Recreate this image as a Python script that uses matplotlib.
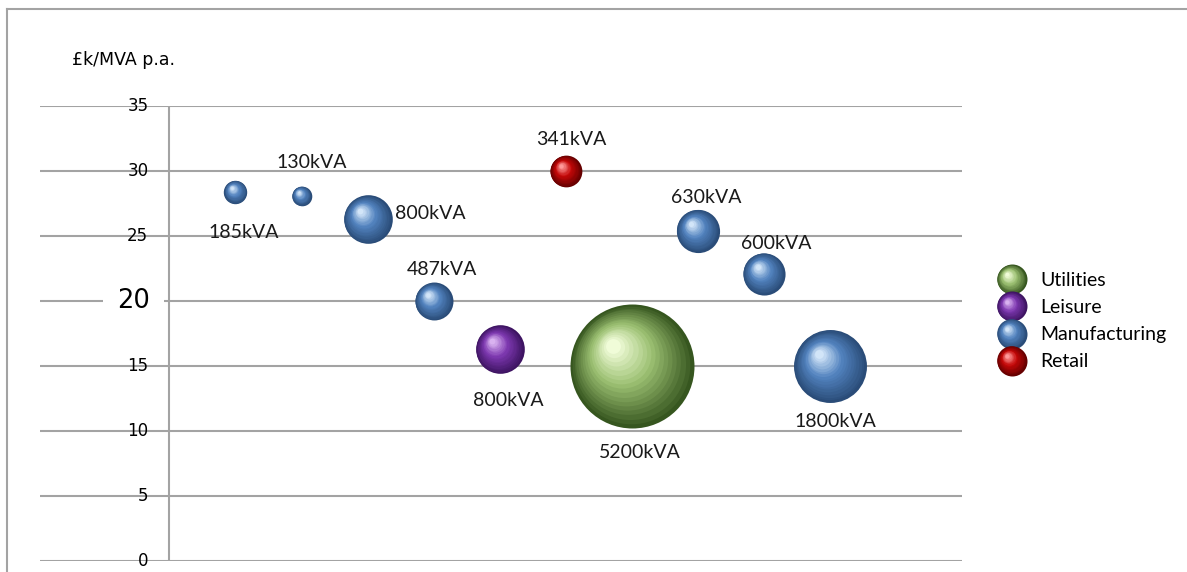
import numpy as np
import matplotlib.pyplot as plt
from matplotlib import transforms
from matplotlib.colors import to_rgb
from matplotlib.lines import Line2D
from matplotlib.legend_handler import HandlerBase

# data
sector = ['Manufacturing', 'Manufacturing', 'Manufacturing', 'Manufacturing', 'Leisure',
          'Retail', 'Utilities', 'Manufacturing', 'Manufacturing', 'Manufacturing']
site = [1, 2, 3, 4, 5, 6, 7, 8, 9, 10]
cost = [28.4, 28.1, 26.3, 20.0, 16.3, 30.0, 15.0, 25.4, 22.1, 15.0]
kva = [185, 130, 800, 487, 800, 341, 5200, 630, 600, 1800]
legend_order = ['Utilities', 'Leisure', 'Manufacturing', 'Retail']
yticks = [0, 5, 10, 15, 20, 25, 30, 35]

# label offsets (points) and alignment
lab_off = [(6, -29), (7, 24), (20, 4), (6, 23), (6, -37), (4, 23), (6, -62), (6, 24), (9, 22), (4, -40)]
lab_ha = ['center', 'center', 'left', 'center', 'center', 'center', 'center', 'center', 'center', 'center']

# dark edge, body, highlight
cols = {
    'Manufacturing': ('#2a4c78', '#5283bf', '#d2e5f8'),
    'Utilities': ('#36561f', '#9cc072', '#f0fcd8'),
    'Leisure': ('#3e1462', '#7d38b0', '#d9b2f0'),
    'Retail': ('#660000', '#c40808', '#ff9a9a'),
}
N = 18


def shade(name, t):
    d, b, l = [np.array(to_rgb(c)) for c in cols[name]]
    if t < 0.55:
        return tuple(d + (b - d) * t / 0.55)
    return tuple(b + (l - b) * (t - 0.55) / 0.45)


fig = plt.figure(figsize=(11.87, 5.72), dpi=100)
ax = fig.add_axes([40 / 1187, 11 / 572, 922 / 1187, 455 / 572])
ax.set_xlim(-1.96, 12)
ax.set_ylim(0, 35)
ax.axis('off')

grey = '#a3a3a3'
ax.hlines(yticks, -1.96, 12, color=grey, lw=1.5, zorder=1)
ax.vlines(0, 0, 35, color=grey, lw=1.5, zorder=1)
for v in yticks:
    if v == 20:
        ax.text(-0.3, v, str(v), ha='right', va='center', fontsize=18.5, family='DejaVu Sans',
                bbox=dict(fc='white', ec='none', pad=10), zorder=2)
    else:
        ax.text(-0.32, v, str(v), ha='right', va='center', fontsize=12, family='DejaVu Sans', zorder=2)

# bubbles, area ~ kVA, shaded as spheres
for x, y, s, name in zip(site, cost, kva, sector):
    R = 0.619 * np.sqrt(s)  # radius in points
    for k in range(N):
        t = k / (N - 1)
        f = 1 - 0.88 * t
        tr = transforms.offset_copy(ax.transData, fig=fig, x=-0.3 * R * t, y=0.33 * R * t, units='points')
        ax.scatter([x], [y], s=(2 * f * R) ** 2, color=shade(name, t), linewidths=0,
                   transform=tr, zorder=3 + k * 0.01, clip_on=False)

for x, y, s, off, ha in zip(site, cost, kva, lab_off, lab_ha):
    ax.annotate(f'{s}kVA', (x, y), xytext=off, textcoords='offset points', ha=ha, va='center',
                fontsize=14, family='Lato', color='#1a1a1a', zorder=5)


class SphereHandler(HandlerBase):
    def __init__(self, name):
        super().__init__()
        self.name = name

    def create_artists(self, legend, orig_handle, xdescent, ydescent, width, height, fontsize, trans):
        cx = width / 2 - xdescent
        cy = height / 2 - ydescent
        R = 10.8
        arts = []
        for k in range(N):
            t = k / (N - 1)
            f = 1 - 0.88 * t
            ln = Line2D([cx - 0.3 * R * t], [cy + 0.33 * R * t], marker='o', ms=2 * f * R,
                        mfc=shade(self.name, t), mec='none', ls='none', transform=trans)
            arts.append(ln)
        return arts


handles = [Line2D([], [], label=n) for n in legend_order]
fig.legend(handles=handles, labels=legend_order,
           handler_map={h: SphereHandler(n) for h, n in zip(handles, legend_order)},
           loc='center left', bbox_to_anchor=(997 / 1187, 1 - 320.5 / 572), frameon=False,
           borderaxespad=0, borderpad=0, handlelength=1.5, handletextpad=0.75, handleheight=1.0,
           labelspacing=0.45, prop={'family': 'Lato', 'size': 14})

fig.text(72 / 1187, 1 - 60 / 572, '£k/MVA p.a.', ha='left', va='center', fontsize=12.5, family='DejaVu Sans')

# outer chart frame
fig.add_artist(Line2D([7 / 1187, 7 / 1187], [0, 1 - 9 / 572], color=grey, lw=1.5))
fig.add_artist(Line2D([7 / 1187, 1], [1 - 9 / 572, 1 - 9 / 572], color=grey, lw=1.5))

fig.savefig('out.png', dpi=100)
